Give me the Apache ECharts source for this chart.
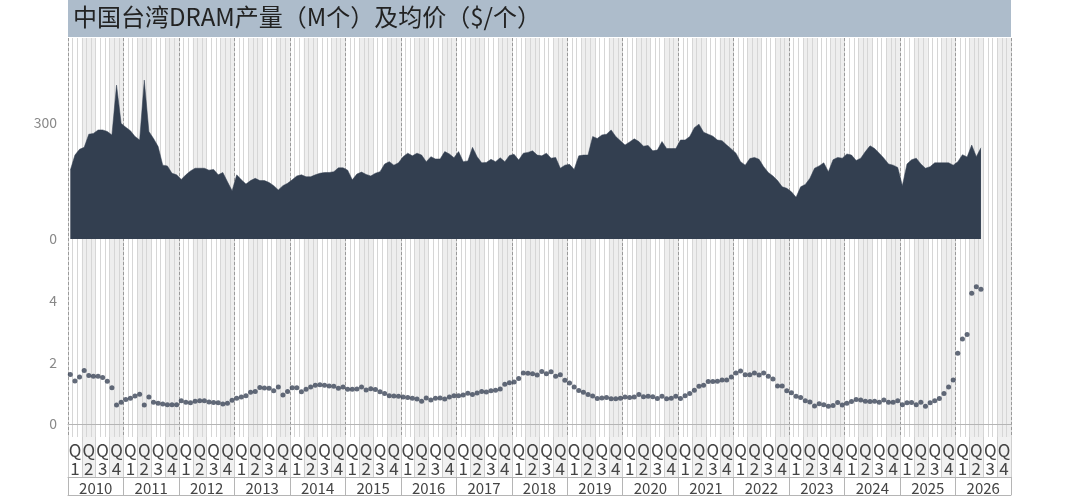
<!DOCTYPE html>
<html><head><meta charset="utf-8">
<script src="https://cdn.jsdelivr.net/npm/echarts@6/dist/echarts.min.js"></script>
<style>html,body{margin:0;padding:0;background:#fff}#c{width:1080px;height:496px}</style>
</head><body><div id="c"></div><script>
const titleText = '中国台湾DRAM产量（M个）及均价（$/个）';
const years = ['2010','2011','2012','2013','2014','2015','2016','2017','2018','2019','2020','2021','2022','2023','2024','2025','2026'];
const quarterNames = ['1','2','3','4'];
const prodTicks = [0, 300];
const priceTicks = [0, 2, 4];
// monthly production (M units), Jan 2010 onward
const production = [178,217,232,237,271,273,282,282,278,269,398,299,289,280,265,256,411,278,260,239,191,189,170,166,154,166,176,183,183,183,178,180,166,172,148,125,166,153,142,151,157,151,151,146,138,127,138,144,153,163,166,161,161,166,170,172,172,174,184,184,178,153,168,173,167,163,170,174,194,200,
191,197,213,222,215,222,217,200,213,207,207,226,220,210,226,200,202,237,213,197,198,206,200,210,200,216,219,204,222,224,228,217,215,222,209,211,183,191,193,180,215,217,217,265,260,269,271,282,265,254,243,251,259,252,240,242,228,230,252,234,234,234,256,256,265,288,297,276,271,
266,256,254,243,233,222,200,191,208,211,206,187,172,163,151,135,131,122,108,135,141,157,183,189,197,174,205,211,209,220,217,203,209,226,241,234,222,209,194,191,185,138,194,205,209,194,183,187,197,197,197,197,191,200,218,212,243,213,236];
// monthly average price ($/unit), Jan 2010 onward
const price = [1.61,1.40,1.53,1.74,1.58,1.55,1.55,1.51,1.39,1.18,0.62,0.71,0.80,0.84,0.91,0.97,0.62,0.88,0.71,0.68,0.65,0.63,0.63,0.63,0.76,0.71,0.69,0.74,0.76,0.76,0.72,0.70,0.69,0.65,0.68,0.77,0.84,0.88,0.92,1.03,1.06,1.19,1.17,1.16,1.08,1.20,0.94,1.06,1.18,1.18,1.05,1.13,1.20,1.26,1.28,1.26,1.24,1.23,1.16,1.20,1.13,1.13,1.14,1.20,1.11,1.15,1.12,
1.05,0.99,0.92,0.91,0.90,0.88,0.86,0.84,0.81,0.74,0.85,0.78,0.84,0.85,0.81,0.88,0.92,0.92,0.94,1.00,0.96,1.01,1.06,1.04,1.08,1.10,1.14,1.29,1.34,1.37,1.48,1.66,1.65,1.63,1.59,1.71,1.63,1.70,1.55,1.60,1.42,1.33,1.20,1.09,1.03,0.96,0.91,0.83,0.85,0.86,0.82,0.82,0.84,0.88,0.86,0.88,0.96,0.89,0.90,0.89,0.83,0.90,0.82,0.84,0.90,0.83,0.92,0.99,1.10,
1.23,1.26,1.38,1.38,1.39,1.43,1.43,1.53,1.66,1.72,1.60,1.60,1.66,1.59,1.66,1.55,1.46,1.24,1.24,1.08,1.02,0.90,0.86,0.76,0.72,0.59,0.66,0.63,0.58,0.60,0.70,0.62,0.68,0.73,0.80,0.78,0.74,0.73,0.74,0.71,0.78,0.71,0.71,0.76,0.63,0.69,0.70,0.63,0.71,0.58,0.69,0.76,0.83,0.99,1.20,1.43,2.30,2.76,2.91,4.25,4.46,4.38];

const months = [];
years.forEach(y => { for (let m = 1; m <= 12; m++) months.push(y + '-' + m); });
const quarters = [];
years.forEach(y => quarterNames.forEach(q => quarters.push(y + 'Q' + q)));

const FONT = '"Noto Sans CJK SC", "Noto Sans", sans-serif';
const L = 68, W = 943;
const grids = [
  {left: L, width: W, top: 38, height: 209},
  {left: L, width: W, top: 247, height: 190},
  {left: L, width: W, top: 437, height: 40},
  {left: L, width: W, top: 477, height: 19}
];
const xAxes = [];
const yAxes = [];
function hidden(ax){ ax.axisLine = ax.axisLine || {show:false}; ax.axisTick = {show:false}; ax.axisLabel = ax.axisLabel || {show:false}; return ax; }
[0,1].forEach(g => {
  // month axis (data axis)
  xAxes.push(hidden({type:'category', gridIndex:g, data:months, boundaryGap:true, position: g===1?'top':'bottom',
    axisLine: g===1 ? {show:true, lineStyle:{color:'#b5b5b5', width:1}} : {show:false},
    splitLine:{show:true, interval:0, lineStyle:{color:'#d6d6d6', width:1}}, z:1}));
  // quarter shading axis
  xAxes.push(hidden({type:'category', gridIndex:g, data:quarters, boundaryGap:true,
    splitLine:{show:false}, splitArea:{show:true, interval:0, areaStyle:{color:['rgba(255,255,255,0)','#eeeeee']}}, z:0}));
  // year separators
  xAxes.push(hidden({type:'category', gridIndex:g, data:years, boundaryGap:true,
    splitLine:{show:true, interval:0, lineStyle:{color:'#9a9a9a', type:[3,2], width:1}}, z:1}));
});
// header rows
xAxes.push({type:'category', gridIndex:2, data:quarters, boundaryGap:true, position:'top',
  axisLine:{show:true, lineStyle:{color:'#b5b5b5'}}, axisTick:{show:false},
  axisLabel:{show:true, inside:true, interval:0, margin:5, color:'#444', fontSize:17, lineHeight:18, fontFamily:FONT,
    formatter: v => 'Q\n' + v.slice(-1)},
  splitLine:{show:true, interval:0, lineStyle:{color:'#cfcfcf'}},
  splitArea:{show:true, interval:0, areaStyle:{color:['rgba(255,255,255,0)','#f1f1f1']}}});
xAxes.push({type:'category', gridIndex:3, data:years, boundaryGap:true, position:'top',
  axisLine:{show:true, lineStyle:{color:'#b5b5b5'}}, axisTick:{show:false},
  axisLabel:{show:true, inside:true, interval:0, margin:2, color:'#444', fontSize:15, lineHeight:18, fontFamily:FONT},
  splitLine:{show:true, interval:0, lineStyle:{color:'#b5b5b5'}}});

yAxes.push({type:'value', gridIndex:0, min:-20.7, max:519.8,
  axisLine:{show:false}, axisTick:{show:false}, splitLine:{show:false},
  axisLabel:{show:true, customValues:prodTicks, color:'#888', fontSize:14, margin:11, fontFamily:FONT}});
yAxes.push({type:'value', gridIndex:1, min:-0.42, max:5.75,
  axisLine:{show:false}, axisTick:{show:false}, splitLine:{show:false},
  axisLabel:{show:true, customValues:priceTicks, color:'#888', fontSize:14, margin:11, fontFamily:FONT}});
yAxes.push({type:'value', gridIndex:2, show:false, min:0, max:1});
yAxes.push({type:'value', gridIndex:3, show:false, min:0, max:1});

const chart = echarts.init(document.getElementById('c'), null, {renderer:'canvas'});
chart.setOption({
  animation:false,
  backgroundColor:'#ffffff',
  textStyle:{fontFamily:FONT},
  grid: grids,
  xAxis: xAxes,
  yAxis: yAxes,
  graphic:[
    {type:'rect', left:L, top:0, shape:{width:W, height:37}, style:{fill:'#adbccb'}, z:10},
    {type:'text', left:73, top:5, style:{text:titleText, fill:'#222', font:'24px ' + FONT}, z:11}
  ],
  series:[
    {type:'line', name:'产量', xAxisIndex:0, yAxisIndex:0, data:production, showSymbol:false, symbol:'none',
      lineStyle:{width:0.5, color:'#333f50'}, areaStyle:{color:'#333f50', opacity:1, origin:0}, z:3},
    {type:'scatter', name:'均价', xAxisIndex:3, yAxisIndex:1, data:price, symbol:'circle', symbolSize:5,
      itemStyle:{color:'#3b4558'}, z:3}
  ]
});
</script></body></html>
